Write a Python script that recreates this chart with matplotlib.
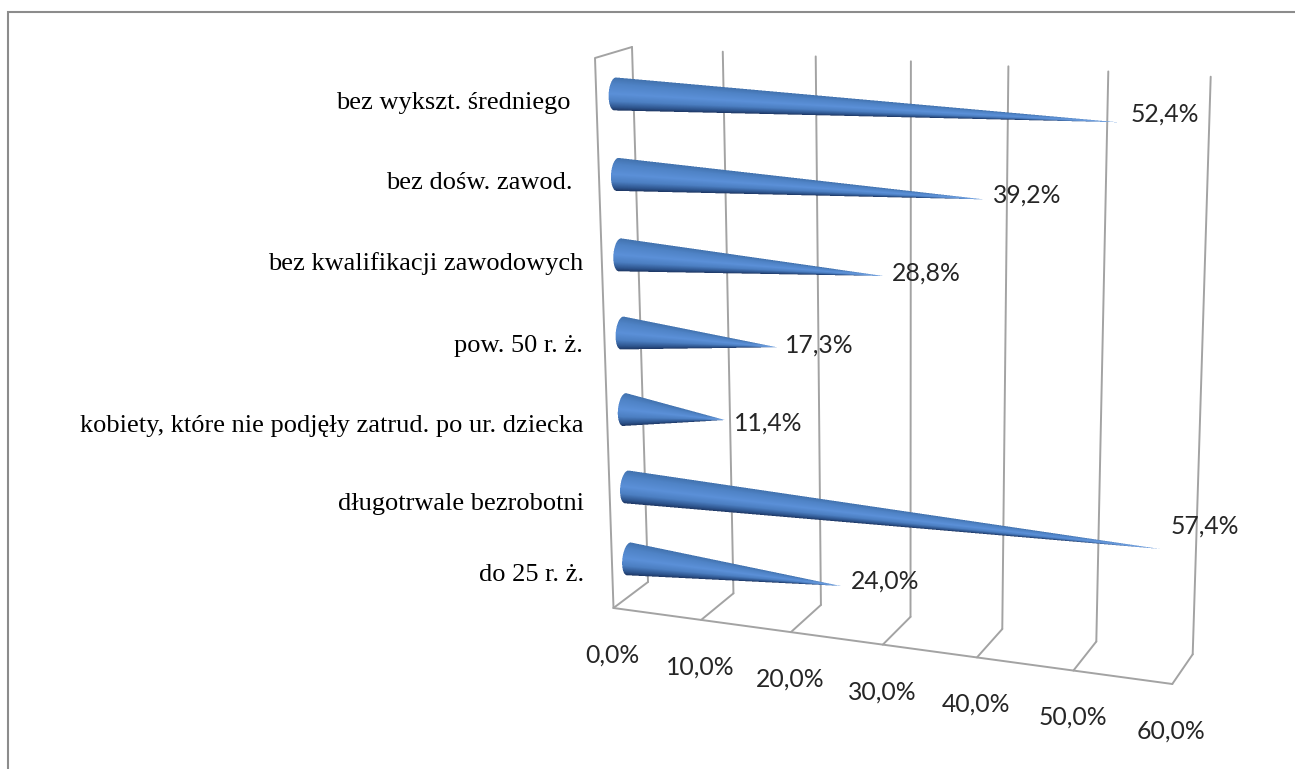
import numpy as np
import matplotlib
matplotlib.use("Agg")
import matplotlib.pyplot as plt
import matplotlib.transforms as mtransforms
from matplotlib.colors import LinearSegmentedColormap, to_rgba

categories = [
    "bez wykszt. średniego",
    "bez dośw. zawod.",
    "bez kwalifikacji zawodowych",
    "pow. 50 r. ż.",
    "kobiety, które nie podjęły zatrud. po ur. dziecka",
    "długotrwale bezrobotni",
    "do 25 r. ż.",
]
values = [52.4, 39.2, 28.8, 17.3, 11.4, 57.4, 24.0]
value_labels = ["52,4%", "39,2%", "28,8%", "17,3%", "11,4%", "57,4%", "24,0%"]
ticks = [0, 10, 20, 30, 40, 50, 60]
tick_labels = ["0,0%", "10,0%", "20,0%", "30,0%", "40,0%", "50,0%", "60,0%"]

VMAX = 60
GRID = "#a3a3a3"
FRAME = "#8c8c8c"
TEXT = "#262626"

# layout of the rows, the original is not quite regular
cat_pos = [0.51, 1.55, 2.59, 3.6, 4.59, 5.59, 6.52]
label_offsets = [(47, -8), (43, -4), (43, -3), (42, -2), (43, 3), (45, -23), (44, -5)]
cat_label_right = [571, 573, 583, 583, 584, 584, 584]
cat_label_dy = [9, 8.5, 9, 13, 16, 17, 16]


class BoxPlane(mtransforms.Transform):
    # (value, y) -> pixels on one skewed plane of the box, right side is nearer the viewer
    input_dims = 2
    output_dims = 2
    has_inverse = False

    def __init__(self, p00, p10, p01, p11, y_span=1.0, k=0.075):
        super().__init__()
        self.corners = [np.array(p, float) for p in (p00, p10, p01, p11)]
        self.y_span = y_span
        self.k = k

    def transform_non_affine(self, values):
        values = np.asarray(values, float)
        f = values[:, 0] / VMAX
        u = (f / (1 + self.k * (1 - f)))[:, None]
        w = (values[:, 1] / self.y_span)[:, None]
        p00, p10, p01, p11 = self.corners
        return (1 - w) * ((1 - u) * p00 + u * p10) + w * ((1 - u) * p01 + u * p11)


# box corners in pixels
front_l, front_r = (613.5, 608), (1172.3, 684)
back_l, back_r = (648, 582), (1192.7, 654.3)
top_l, top_r = (632, 47), (1210.7, 76.7)
side_top = (595, 58)

n_cat = len(categories)
wall = BoxPlane(back_l, back_r, top_l, top_r)
floor = BoxPlane(front_l, front_r, back_l, back_r)
plane = BoxPlane((614, 54.5), (1198, 84), (630, 596), (1183, 670), y_span=n_cat, k=0.08)

cone_cmap = LinearSegmentedColormap.from_list(
    "cone",
    [(0, "#4272ae"), (0.2, "#4f83c6"), (0.5, "#5b90d8"), (0.72, "#4c7fc2"), (0.9, "#2e558e"), (1, "#1e3764")],
)
tip_color = np.array(to_rgba("#7aa8e4"))[:3]


def cone_image(base, tip, semi_a=6.5, semi_b=16.5, ss=3):
    # one cone as an RGBA image on the pixel grid, mask is supersampled for smooth edges
    x0, x1 = int(min(base[0], tip[0]) - semi_a - 3), int(max(base[0], tip[0]) + 3)
    y0, y1 = int(min(base[1], tip[1]) - semi_b - 3), int(max(base[1], tip[1]) + semi_b + 3)
    axis = tip - base
    length = np.hypot(*axis)
    ux, uy = axis / length

    def coords(xs, ys):
        gx, gy = np.meshgrid(xs, ys)
        along = (gx - base[0]) * ux + (gy - base[1]) * uy
        perp = -(gx - base[0]) * uy + (gy - base[1]) * ux
        return along, perp

    # coverage
    sub_x = x0 + (np.arange((x1 - x0) * ss) + 0.5) / ss
    sub_y = y0 + (np.arange((y1 - y0) * ss) + 0.5) / ss
    along, perp = coords(sub_x, sub_y)
    inside = ((along >= 0) & (along <= length) & (np.abs(perp) <= semi_b * (1 - along / length))) | (
        (along < 0) & ((along / semi_a) ** 2 + (perp / semi_b) ** 2 <= 1)
    )
    h, w = y1 - y0, x1 - x0
    alpha = inside.reshape(h, ss, w, ss).mean(axis=(1, 3))

    # shading across the cone, washed out near the tip
    along, perp = coords(x0 + np.arange(w) + 0.5, y0 + np.arange(h) + 0.5)
    a = np.clip(along / length, 0, 0.999)
    s = np.clip(perp / (semi_b * (1 - a)), -1, 1)
    rgb = cone_cmap(s / 2 + 0.5)[..., :3]
    fade = (np.clip((a - 0.8) / 0.2, 0, 1) ** 1.5)[..., None]
    rgb = (1 - fade) * rgb + fade * tip_color
    return np.dstack([rgb, alpha]), (x0, x1, y1, y0)


fig = plt.figure(figsize=(12.95, 7.69), dpi=100)
ax = fig.add_axes([0, 0, 1, 1])
ax.axis("off")

# outer chart frame, only top and left show up in the crop
ax.plot([8, 8, 1295], [769, 12, 12], color=FRAME, lw=1.5, solid_joinstyle="miter")

# walls and gridlines
kw = dict(color=GRID, lw=1.4, solid_capstyle="round", scalex=False, scaley=False)
for t in ticks:
    ax.plot([t, t], [0, 1], transform=wall + ax.transData, **kw)
    ax.plot([t, t], [0, 1], transform=floor + ax.transData, **kw)
ax.plot([0, VMAX], [0, 0], transform=floor + ax.transData, **kw)
ax.plot([front_l[0], side_top[0], top_l[0]], [front_l[1], side_top[1], top_l[1]], **kw)

for i, val in enumerate(values):
    y = cat_pos[i]
    base, tip = plane.transform(np.array([[0, y], [val, y]], float))
    img, extent = cone_image(base, tip)
    ax.imshow(img, extent=extent, aspect="auto", interpolation="nearest", zorder=3)

    dx, dy = label_offsets[i]
    ax.annotate(value_labels[i], xy=(val, y), xycoords=plane + ax.transData,
                xytext=(dx, -dy), textcoords="offset pixels",
                ha="center", va="center", fontsize=17.8, family="Lato", color=TEXT, zorder=4)
    ax.text(cat_label_right[i], base[1] + cat_label_dy[i], categories[i], ha="right", va="center",
            fontsize=19, family="Liberation Serif", color="black")

# value axis labels, under the front floor edge
for t, lab in zip(ticks, tick_labels):
    ax.annotate(lab, xy=(t, 0), xycoords=floor + ax.transData, xytext=(-1, -47),
                textcoords="offset pixels", ha="center", va="center",
                fontsize=17.8, family="Lato", color=TEXT)

# imshow resets the limits, so the pixel scale is set last
ax.set_xlim(0, 1295)
ax.set_ylim(769, 0)

fig.savefig("out.png", dpi=100, facecolor="white")
